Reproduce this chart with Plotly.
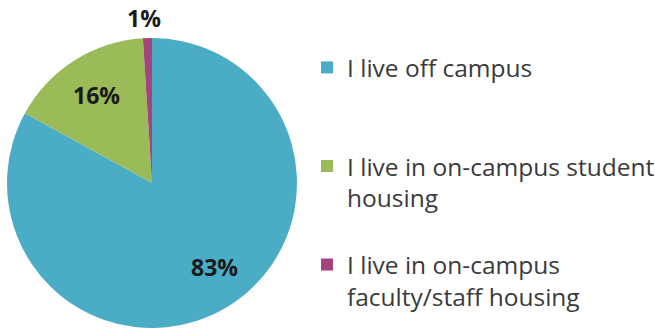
import math
import plotly.graph_objects as go

# Where respondents live
labels = [
    "I live off campus",
    "I live in on-campus student<br>housing",
    "I live in on-campus<br>faculty/staff housing",
]
shares = [83, 16, 1]
colors = ["#4BACC6", "#9BBB59", "#A3457A"]

W, H = 655, 328
pie_x = [7 / W, 297 / W]
pie_y = [0, 290 / H]

# value labels: distance from centre (fraction of radius) and a small angular nudge
label_radius = [0.72, 0.72, 1.14]
label_nudge_deg = [-6, 0, -1]

# pad legend entries (except the last) to three lines so the entries are evenly spaced
max_lines = 3
legend_labels = [
    lbl + ("<br> " * (max_lines - 1 - lbl.count("<br>")) if i < len(labels) - 1 else "")
    for i, lbl in enumerate(labels)
]

fig = go.Figure(
    go.Pie(
        labels=legend_labels,
        values=shares,
        sort=False,
        direction="clockwise",
        rotation=0,
        marker=dict(colors=colors, line=dict(width=0)),
        textinfo="none",
        domain=dict(x=pie_x, y=pie_y),
        hoverinfo="label+percent",
    )
)

# pie geometry in pixels (plotly uses the smaller domain side as diameter)
box_w = (pie_x[1] - pie_x[0]) * W
box_h = (pie_y[1] - pie_y[0]) * H
radius = min(box_w, box_h) / 2
cx = (pie_x[0] + pie_x[1]) / 2 * W
cy = (pie_y[0] + pie_y[1]) / 2 * H  # measured from the bottom

total = sum(shares)
start = 0.0
for v, rf, nudge in zip(shares, label_radius, label_nudge_deg):
    mid = start + v / total * 360 / 2 + nudge  # degrees clockwise from 12 o'clock
    start += v / total * 360
    a = math.radians(mid)
    px = cx + rf * radius * math.sin(a)
    py = cy + rf * radius * math.cos(a)
    fig.add_annotation(
        x=px / W,
        y=py / H,
        xref="paper",
        yref="paper",
        text=f"<b>{v}%</b>",
        showarrow=False,
        xanchor="center",
        yanchor="middle",
        font=dict(family="Open Sans", size=23, color="#1a1a1a"),
    )

fig.update_layout(
    width=W,
    height=H,
    margin=dict(l=0, r=0, t=0, b=0, autoexpand=False),
    paper_bgcolor="white",
    plot_bgcolor="white",
    showlegend=True,
    legend=dict(
        x=307 / W,
        xanchor="left",
        y=1 - 45 / H,
        yanchor="top",
        valign="top",
        font=dict(family="Open Sans", size=24.5, color="#3a3a3a"),
        bgcolor="rgba(0,0,0,0)",
    ),
)

fig.write_html("out.html")
